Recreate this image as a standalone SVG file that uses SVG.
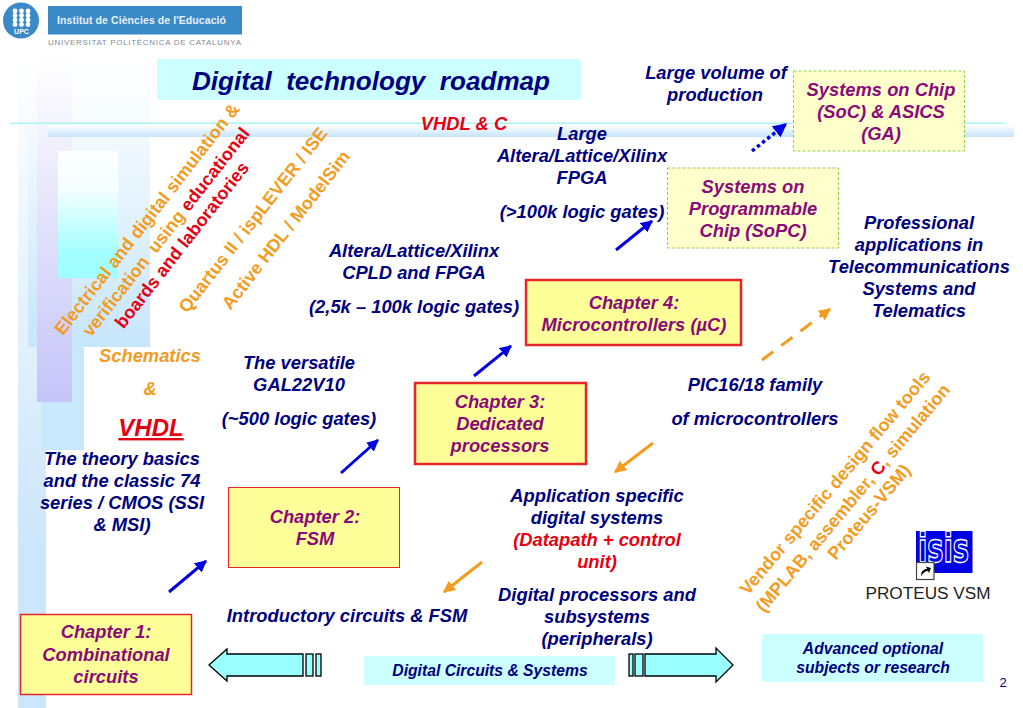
<svg xmlns="http://www.w3.org/2000/svg" width="1023" height="708" viewBox="0 0 1023 708">
<defs>
<linearGradient id="gBand" x1="0" y1="0" x2="0" y2="1"><stop offset="0" stop-color="#ffffff"/><stop offset="0.15" stop-color="#fafdff"/><stop offset="1" stop-color="#c6e6fa"/></linearGradient>
<linearGradient id="gStrip" x1="0" y1="0" x2="0" y2="1"><stop offset="0" stop-color="#ffffff"/><stop offset="0.75" stop-color="#cce6fb"/><stop offset="1" stop-color="#cce6fb"/></linearGradient>
<linearGradient id="gPurple" x1="0" y1="0" x2="0" y2="1"><stop offset="0" stop-color="#ffffff"/><stop offset="1" stop-color="#c6c4f8"/></linearGradient>
<linearGradient id="gCyan" x1="0" y1="0" x2="0" y2="1"><stop offset="0" stop-color="#ffffff"/><stop offset="0.3" stop-color="#f4ffff"/><stop offset="0.8" stop-color="#a4ffff"/><stop offset="1" stop-color="#a0ffff"/></linearGradient>
<linearGradient id="gBar" x1="0" y1="0" x2="0" y2="1"><stop offset="0" stop-color="#ffffff"/><stop offset="1" stop-color="#c4e4fa"/></linearGradient>
<marker id="aB" viewBox="0 0 10 10" refX="9" refY="5" markerWidth="4" markerHeight="4" orient="auto-start-reverse" markerUnits="strokeWidth"><path d="M0 0L10 5L0 10z" fill="#0000e0"/></marker>
<marker id="aO" viewBox="0 0 10 10" refX="9" refY="5" markerWidth="4" markerHeight="4" orient="auto-start-reverse" markerUnits="strokeWidth"><path d="M0 0L10 5L0 10z" fill="#f39c1f"/></marker>
</defs>
<style>
text{font-family:"Liberation Sans",Arial,sans-serif;font-weight:bold;font-style:italic;font-size:18.350px;text-anchor:middle;white-space:pre}
.n{fill:#000080}.p{fill:#8b0a7a}.o{fill:#f39c1f}.r{fill:#e60012}
.yr{fill:#ffff99;stroke:#e8262a;stroke-width:1.5}
.yd{fill:#ffffcc;stroke:#8fd04a;stroke-width:1;stroke-dasharray:3 2}
.cy{fill:#ccffff}
.fat{fill:#99ffff;stroke:#000000;stroke-width:1.3}
.ab{stroke:#0000e0;stroke-width:3;fill:none;marker-end:url(#aB)}
.ao{stroke:#f39c1f;stroke-width:3;fill:none;marker-end:url(#aO)}
.s{font-size:15.700px}
.u{font-style:normal;font-size:18px}
.dot{fill:#ffffff}
</style>
<rect width="1023" height="708" fill="#ffffff"/>
<g id="background">
<rect x="18" y="55" width="28" height="653" fill="url(#gStrip)"/>
<rect x="41" y="347" width="43" height="103" fill="#c8e8fb"/>
<rect x="28" y="55" width="122" height="292" fill="url(#gBand)"/>
<rect x="37" y="55" width="35" height="347" fill="url(#gPurple)"/>
<rect x="58" y="151" width="60" height="127" fill="url(#gCyan)"/>
<rect x="48" y="125" width="966" height="12" fill="url(#gBar)"/>
<rect x="10" y="122.500" width="995" height="1.500" fill="#a8f5f5"/>
</g>
<g id="logo">
<circle cx="21" cy="20.500" r="18" fill="#3a8ac8"/>
<g class="dot">
<circle cx="15" cy="11" r="2.400"/><circle cx="21.500" cy="11" r="2.400"/><circle cx="28" cy="11" r="2.400"/>
<circle cx="15" cy="15.500" r="2.400"/><circle cx="21.500" cy="15.500" r="2.400"/><circle cx="28" cy="15.500" r="2.400"/>
<circle cx="15" cy="20" r="2.400"/><circle cx="21.500" cy="20" r="2.400"/><circle cx="28" cy="20" r="2.400"/>
<circle cx="15" cy="24.500" r="2.400"/><circle cx="21.500" cy="24.500" r="2.400"/><circle cx="28" cy="24.500" r="2.400"/>
</g>
<text x="21.500" y="34" style="font-size:7px;font-style:normal;fill:#fff">UPC</text>
<rect x="48" y="6" width="194" height="28.500" fill="#3a8ac8"/>
<text x="57" y="24" textLength="169" style="font-size:10.500px;font-style:normal;fill:#e8f0f8;text-anchor:start">Institut de Ciències de l'Educació</text>
<text x="48" y="45" textLength="193" style="font-size:8px;font-style:normal;font-weight:normal;fill:#7f8c9a;text-anchor:start">UNIVERSITAT POLITÈCNICA DE CATALUNYA</text>
</g>
<g id="title">
<rect x="157" y="59" width="424" height="41" class="cy"/>
<text x="371" y="90" style="font-size:26.100px" class="n">Digital  technology  roadmap</text>
</g>
<g id="connectors">
<line class="ab" x1="169" y1="592" x2="206" y2="561"/>
<line class="ab" x1="341" y1="473" x2="378" y2="440"/>
<line class="ab" x1="474" y1="376" x2="511" y2="346"/>
<line class="ab" x1="616" y1="250" x2="652" y2="221"/>
<line class="ab" x1="752" y1="151" x2="786" y2="124" stroke-dasharray="3.500 3" style="stroke-width:3.500"/>
<line class="ao" x1="762" y1="360" x2="830" y2="309" stroke-dasharray="14 10"/>
<line class="ao" x1="653" y1="443" x2="615" y2="472"/>
<line class="ao" x1="482" y1="562" x2="444" y2="592"/>
</g>
<g id="ch1"><rect class="yr" x="20.500" y="614.500" width="171" height="80"/>
<text x="106" y="638" class="p">Chapter 1:</text><text x="106" y="661" class="p">Combinational</text><text x="106" y="683" class="p">circuits</text></g>
<g id="ch2"><rect x="228.500" y="487.500" width="171" height="80" fill="#ffff99" stroke="#e8262a" stroke-width="1"/>
<text x="315" y="523" class="p">Chapter 2:</text><text x="315" y="545" class="p">FSM</text></g>
<g id="ch3"><rect class="yr" x="415" y="383" width="171" height="81" style="stroke-width:2.500"/>
<text x="500" y="408" class="p">Chapter 3:</text><text x="500" y="430" class="p">Dedicated</text><text x="500" y="452" class="p">processors</text></g>
<g id="ch4"><rect class="yr" x="526" y="280" width="215" height="65" style="stroke-width:2.500"/>
<text x="634" y="309" class="p">Chapter 4:</text><text x="634" y="331" class="p">Microcontrollers (µC)</text></g>
<g id="sopc"><rect class="yd" x="667.500" y="168" width="171" height="80"/>
<text x="753" y="193" class="p">Systems on</text><text x="753" y="215" class="p">Programmable</text><text x="753" y="237" class="p">Chip (SoPC)</text></g>
<g id="soc"><rect class="yd" x="793.500" y="71" width="171" height="80"/>
<text x="881" y="96" class="p">Systems on Chip</text><text x="881" y="118" class="p">(SoC) &amp; ASICS</text><text x="881" y="140" class="p">(GA)</text></g>
<g id="dcs"><rect class="cy" x="364" y="656" width="251" height="29"/>
<text x="490" y="676" class="n s">Digital Circuits &amp; Systems</text></g>
<g id="adv"><rect class="cy" x="762" y="634" width="221" height="48"/>
<text x="873" y="654" class="n s">Advanced optional</text><text x="873" y="673" class="n s">subjects or research</text></g>
<g id="arrow-left">
<path class="fat" d="M303 654H227V649L209 665L227 681V676H303z"/>
<rect class="fat" x="306" y="654" width="7" height="22"/><rect class="fat" x="316" y="654" width="5" height="22"/>
</g>
<g id="arrow-right">
<path class="fat" d="M645 654H716V648L733 665L716 682V676H645z"/>
<rect class="fat" x="635" y="654" width="8" height="22"/><rect class="fat" x="629" y="654" width="4" height="22"/>
</g>
<g id="labels">
<text x="716" y="79" class="n">Large volume of</text><text x="715" y="101" class="n">production</text>
<text x="464" y="130" class="r">VHDL &amp; C</text>
<text x="582" y="140" class="n">Large</text><text x="582" y="162" class="n">Altera/Lattice/Xilinx</text><text x="582" y="184" class="n">FPGA</text><text x="582" y="218" class="n">(&gt;100k logic gates)</text>
<text x="414" y="257" class="n">Altera/Lattice/Xilinx</text><text x="414" y="279" class="n">CPLD and FPGA</text><text x="414" y="313" class="n">(2,5k – 100k logic gates)</text>
<text x="919" y="229" class="n">Professional</text><text x="919" y="251" class="n">applications in</text><text x="919" y="273" class="n">Telecommunications</text><text x="919" y="295" class="n">Systems and</text><text x="919" y="317" class="n">Telematics</text>
<text x="299" y="369" class="n">The versatile</text><text x="299" y="391" class="n">GAL22V10</text><text x="299" y="425" class="n">(~500 logic gates)</text>
<text x="150" y="362" class="o">Schematics</text><text x="150" y="395" class="o">&amp;</text>
<text x="151" y="436" style="font-size:24px;text-decoration:underline" class="r">VHDL</text>
<text x="122" y="465" class="n">The theory basics</text><text x="122" y="487" class="n">and the classic 74</text><text x="122" y="509" class="n">series / CMOS (SSI</text><text x="122" y="531" class="n">&amp; MSI)</text>
<text x="755" y="391" class="n">PIC16/18 family</text><text x="755" y="425" class="n">of microcontrollers</text>
<text x="597" y="502" class="n">Application specific</text><text x="597" y="524" class="n">digital systems</text><text x="597" y="546" class="r">(Datapath + control</text><text x="597" y="568" class="r">unit)</text>
<text x="597" y="601" class="n">Digital processors and</text><text x="597" y="623" class="n">subsystems</text><text x="597" y="645" class="n">(peripherals)</text>
<text x="347" y="622" class="n">Introductory circuits &amp; FSM</text>
</g>
<g id="rotated">
<text transform="translate(147,219) rotate(-52)" y="6" class="o u">Electrical and digital simulation &amp;</text>
<text transform="translate(166,232) rotate(-52)" y="6" class="u"><tspan class="o">verification  using </tspan><tspan class="r">educational</tspan></text>
<text transform="translate(182,245) rotate(-52)" y="6" class="r u">boards and laboratories</text>
<text transform="translate(253,220) rotate(-52)" y="6" class="o u">Quartus II / ispLEVER / ISE</text>
<text transform="translate(286,230) rotate(-52)" y="6" class="o u">Active HDL / ModelSim</text>
<text transform="translate(835,483) rotate(-50)" y="6" class="o u">Vendor specific design flow tools</text>
<text transform="translate(853,498) rotate(-50)" y="6" class="u"><tspan class="o">(MPLAB, assembler, </tspan><tspan class="r">C</tspan><tspan class="o">, simulation</tspan></text>
<text transform="translate(869,512) rotate(-50)" y="6" class="o u">Proteus-VSM)</text>
</g>
<g id="isis">
<rect x="916" y="531" width="56.500" height="42" fill="#0000e6"/>
<text x="918" y="562" textLength="51" lengthAdjust="spacingAndGlyphs" style="font-family:'DejaVu Sans',sans-serif;font-size:40px;font-style:normal;text-anchor:start;fill:#0000e6;stroke:#ffffff;stroke-width:1.500">isis</text>
<rect x="916.500" y="562.500" width="17.500" height="17" fill="#fff" stroke="#444" stroke-width="1.200"/>
<path d="M921 576C921 571 924 569 927 569L926 566.500L931 568L929 573L928 571C925 571 923 573 921 576z" fill="#000"/>
<text x="928" y="599" style="font-size:17.200px;font-style:normal;font-weight:normal;fill:#222">PROTEUS VSM</text>
</g>
<text x="1003" y="687" style="font-size:13px;font-style:normal;font-weight:normal" class="n">2</text>
</svg>
